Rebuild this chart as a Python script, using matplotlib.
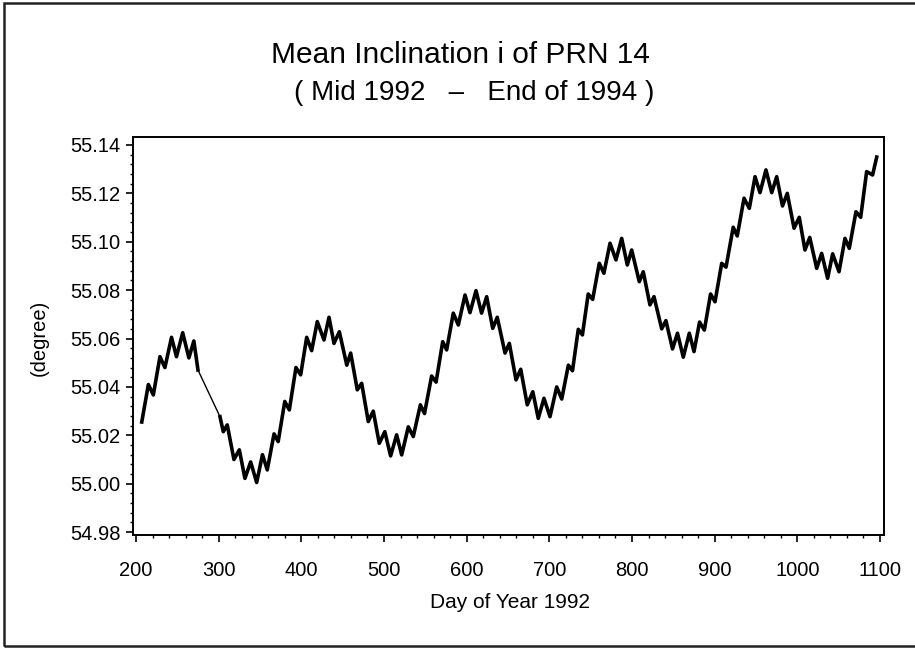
import matplotlib
matplotlib.use("Agg")
import matplotlib.pyplot as plt
from matplotlib.ticker import MultipleLocator, FormatStrFormatter
from matplotlib.patches import Rectangle

plt.rcParams['font.family'] = ['Liberation Sans', 'DejaVu Sans']

# day of year 1992 (extrema of the short-period wiggle)
days = [207, 215, 221, 229, 235, 243, 249, 256.5, 264, 270, 275,
        301.6, 305.6, 310.4, 318.5, 325, 331.8, 338.7, 346, 353, 358.8,
        367, 372, 380, 385.5, 393.5, 399.2, 406.5, 412.5, 419.3, 427.4,
        433.5, 439.5, 446, 455, 459.7, 467.7, 473, 481, 487, 494.3,
        501, 508, 515.3, 521.4, 529.4, 535.4, 544, 549, 557.6, 563,
        571, 575.8, 583.8, 589.9, 598, 604, 611.3, 618, 624.2, 631.5,
        637, 646.4, 651.6, 659.7, 665.4, 673.3, 680, 686.6, 693.5, 700.8,
        708.9, 715, 723, 728, 735, 740, 747, 752.4, 760.4, 766,
        773.4, 780.6, 787.5, 794.3, 799.6, 808.8, 813.6, 821.7, 826.6, 835.9,
        841, 849, 855, 862, 869.3, 875, 881.7, 887.5, 895, 900.4,
        908.5, 913.7, 922.4, 927.3, 935.5, 941.9, 948.8, 954.8, 962, 969,
        975, 982, 987.8, 996, 1002.3, 1009.2, 1015, 1023.4, 1029.4, 1036.6,
        1042.7, 1050.4, 1057.6, 1062.8, 1070.9, 1076.6, 1083.8, 1091, 1096]

# mean inclination (degree)
incl = [55.0255, 55.0410, 55.0367, 55.0525, 55.0480, 55.0605, 55.0525, 55.0624, 55.0520, 55.0590, 55.0470,
        55.0277, 55.0215, 55.0243, 55.0100, 55.0140, 55.0022, 55.0090, 55.0005, 55.0120, 55.0057,
        55.0206, 55.0174, 55.0340, 55.0305, 55.0480, 55.0450, 55.0605, 55.0550, 55.0670, 55.0594,
        55.0688, 55.0580, 55.0628, 55.0490, 55.0540, 55.0388, 55.0415, 55.0257, 55.0300, 55.0167,
        55.0215, 55.0115, 55.0202, 55.0119, 55.0235, 55.0195, 55.0326, 55.0290, 55.0445, 55.0420,
        55.0587, 55.0553, 55.0705, 55.0656, 55.0780, 55.0707, 55.0798, 55.0705, 55.0773, 55.0642,
        55.0688, 55.0540, 55.0580, 55.0429, 55.0473, 55.0326, 55.0380, 55.0270, 55.0353, 55.0277,
        55.0400, 55.0350, 55.0490, 55.0467, 55.0638, 55.0615, 55.0784, 55.0762, 55.0911, 55.0870,
        55.0994, 55.0925, 55.1014, 55.0904, 55.0966, 55.0835, 55.0876, 55.0739, 55.0773, 55.0640,
        55.0674, 55.0557, 55.0622, 55.0523, 55.0622, 55.0546, 55.0668, 55.0635, 55.0784, 55.0752,
        55.0911, 55.0895, 55.1060, 55.1024, 55.1180, 55.1138, 55.1269, 55.1203, 55.1297, 55.1203,
        55.1269, 55.1148, 55.1200, 55.1056, 55.1101, 55.0966, 55.1018, 55.0890, 55.0952, 55.0849,
        55.0950, 55.0876, 55.1014, 55.0973, 55.1124, 55.1101, 55.1290, 55.1276, 55.1350]

xticks = [200, 300, 400, 500, 600, 700, 800, 900, 1000, 1100]
yticks = [54.98, 55.00, 55.02, 55.04, 55.06, 55.08, 55.10, 55.12, 55.14]

fig = plt.figure(figsize=(9.15, 6.49), dpi=100)
ax = fig.add_axes([133/915, 1-535/649, 751/915, 398/649])

# split where there is a data gap: thin joining line, thick beaded line elsewhere
segs = []
start = 0
for i in range(1, len(days)):
    if days[i] - days[i-1] > 20:
        segs.append((start, i))
        start = i
segs.append((start, len(days)))

ax.plot(days, incl, color='black', lw=1.0)
for a, b in segs:
    ax.plot(days[a:b], incl[a:b], color='black', lw=2.6, solid_joinstyle='round')

ax.set_xlim(196.4, 1104.8)
ax.set_ylim(54.9788, 55.1433)
ax.set_xticks(xticks)
ax.set_yticks(yticks)
ax.xaxis.set_minor_locator(MultipleLocator(20))
ax.yaxis.set_minor_locator(MultipleLocator(0.004))
ax.yaxis.set_major_formatter(FormatStrFormatter('%.2f'))
ax.tick_params(which='major', direction='out', length=5, width=1.2, labelsize=14.5)
ax.tick_params(which='minor', direction='out', length=2.5, width=1.0)
ax.tick_params(axis='x', which='major', pad=14)
ax.tick_params(axis='y', which='major', pad=4)
for s in ax.spines.values():
    s.set_linewidth(1.4)

fig.text(460/915, 1-63/649, 'Mean Inclination i of PRN 14', ha='center', va='baseline', fontsize=21.5)
fig.text(474/915, 1-100/649, '( Mid 1992   \u2013   End of 1994 )', ha='center', va='baseline', fontsize=20)
fig.text(510/915, 1-608/649, 'Day of Year 1992', ha='center', va='baseline', fontsize=15)
fig.text(39/915, 1-338/649, '(degree)', ha='center', va='center', rotation=90, fontsize=14.5)

# outer frame of the scanned figure (right edge cut off)
fig.add_artist(Rectangle((4/915, 3/649), 1.0, 643/649, transform=fig.transFigure,
                         fill=False, edgecolor='#222222', lw=1.8))

fig.savefig('out.png', dpi=100)
